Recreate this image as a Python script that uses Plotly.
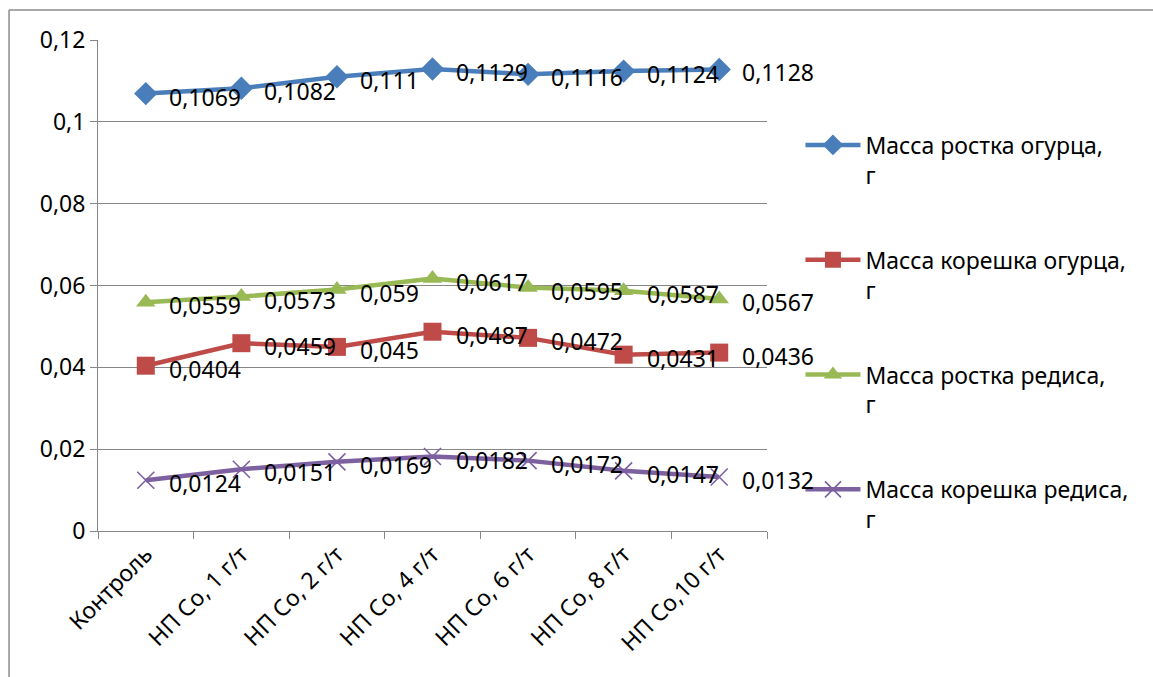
import plotly.graph_objects as go

categories = ["Контроль", "НП Co, 1 г/т", "НП Co, 2 г/т", "НП Co, 4 г/т",
              "НП Co, 6 г/т", "НП Co, 8 г/т", "НП Co,10 г/т"]
series_names = ["Масса ростка огурца,<br>г", "Масса корешка огурца,<br>г",
                "Масса ростка редиса,<br>г", "Масса корешка редиса,<br>г"]
sprout_cucumber = [0.1069, 0.1082, 0.111, 0.1129, 0.1116, 0.1124, 0.1128]
root_cucumber = [0.0404, 0.0459, 0.045, 0.0487, 0.0472, 0.0431, 0.0436]
sprout_radish = [0.0559, 0.0573, 0.059, 0.0617, 0.0595, 0.0587, 0.0567]
root_radish = [0.0124, 0.0151, 0.0169, 0.0182, 0.0172, 0.0147, 0.0132]

all_series = [sprout_cucumber, root_cucumber, sprout_radish, root_radish]
colors = ["#4A7EBB", "#BE4B48", "#98B954", "#7D60A0"]
symbols = ["diamond", "square", "triangle-up", "x-thin"]
msizes = [18, 18, 17, 17]

FONT = "Noto Sans"
FS = 23
fig = go.Figure()
annotations = []
for i, (vals, name, col, sym, ms) in enumerate(zip(all_series, series_names, colors, symbols, msizes)):
    marker = dict(symbol=sym, size=ms, color=col)
    if sym == "x-thin":
        marker["line"] = dict(color=col, width=1.6)
    fig.add_trace(go.Scatter(
        x=categories, y=vals, mode="lines+markers", name=name,
        legendgroup=f"g{i}",
        line=dict(color=col, width=4.5), marker=marker,
    ))
    for c, v in zip(categories, vals):
        annotations.append(dict(
            x=c, y=v, xref="x", yref="y", text=str(v).replace(".", ","),
            showarrow=False, xanchor="left", yanchor="middle",
            xshift=21, yshift=-3, font=dict(family=FONT, size=FS, color="#000")))

border = dict(color="#8C8C8C", width=1.5)
fig.update_layout(
    width=1153, height=677,
    margin=dict(l=98, r=386, t=40, b=146),
    paper_bgcolor="white", plot_bgcolor="white",
    separators=", ",
    font=dict(family=FONT, size=FS, color="#000"),
    annotations=annotations,
    legend=dict(x=1.05, y=0.83, xanchor="left", yanchor="top",
                font=dict(family=FONT, size=FS, color="#000"),
                tracegroupgap=52, valign="top", itemwidth=55,
                bgcolor="rgba(0,0,0,0)"),
    shapes=[
        dict(type="line", xref="paper", yref="paper",
             x0=-0.133, x1=-0.133, y0=-0.6, y1=1.061, line=border, layer="below"),
        dict(type="line", xref="paper", yref="paper",
             x0=-0.133, x1=2.2, y0=1.061, y1=1.061, line=border, layer="below"),
    ],
)
fig.update_xaxes(type="category", range=[-0.5, 6.5], tickson="boundaries",
                 ticks="outside", ticklen=7, tickcolor="#868686",
                 showline=True, linecolor="#868686", linewidth=1,
                 showgrid=False, tickangle=-45,
                 tickfont=dict(family=FONT, size=FS, color="#000"))
fig.update_yaxes(range=[0, 0.12], dtick=0.02, ticks="outside", ticklen=7,
                 tickcolor="#868686", showline=True, linecolor="#868686",
                 showgrid=True, gridcolor="#868686", gridwidth=1,
                 zeroline=False,
                 tickfont=dict(family=FONT, size=FS, color="#000"))
fig.write_html("out.html")
